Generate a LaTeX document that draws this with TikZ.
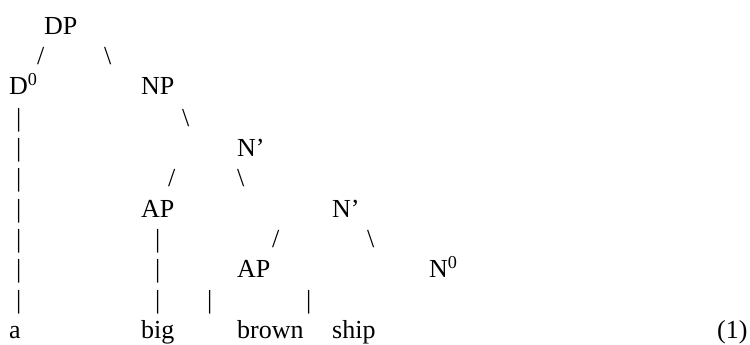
\documentclass[tikz,border=0pt]{standalone}
\usepackage{fontspec}
\setmainfont{Liberation Serif}

\begin{document}
\begin{tikzpicture}[x=1pt, y=1pt,
        word/.style={anchor=base west, inner sep=0pt, font=\fontsize{26}{30}\selectfont}]
        \useasboundingbox (0,0) rectangle (750,-345);

        % Row 1
        \node[word] (dp) at (44,-35) {DP};

        % Row 2
        \node[word] (s1) at (37,-65) {/};
        \node[word] (b1) at (104,-65) {\textbackslash};

        % Row 3
        \node[word] (d0) at (9,-95) {D\textsuperscript{0}};
        \node[word] (np) at (141,-95) {NP};

        % Row 4
        \node[word] (p1) at (16,-126) {|};
        \node[word] (b2) at (182,-126) {\textbackslash};

        % Row 5
        \node[word] (p2) at (16,-156) {|};
        \node[word] (nbar1) at (237,-156) {N’};

        % Row 6
        \node[word] (p3) at (16,-186.5) {|};
        \node[word] (s2) at (168,-186.5) {/};
        \node[word] (b3) at (237,-186.5) {\textbackslash};

        % Row 7
        \node[word] (p4) at (16,-217) {|};
        \node[word] (ap1) at (141,-217) {AP};
        \node[word] (nbar2) at (332,-217) {N’};

        % Row 8
        \node[word] (p5) at (16,-247) {|};
        \node[word] (q1) at (155,-247) {|};
        \node[word] (s3) at (272,-247) {/};
        \node[word] (b4) at (367,-247) {\textbackslash};

        % Row 9
        \node[word] (p6) at (16,-277.5) {|};
        \node[word] (q2) at (155,-277.5) {|};
        \node[word] (ap2) at (237,-277.5) {AP};
        \node[word] (n0) at (429,-277.5) {N\textsuperscript{0}};

        % Row 10
        \node[word] (p7) at (16,-308) {|};
        \node[word] (q3) at (155,-308) {|};
        \node[word] (r1) at (207,-308) {|};
        \node[word] (r2) at (306,-308) {|};

        % Words
        \node[word] (wa) at (9,-338) {a};
        \node[word] (wbig) at (141,-338) {big};
        \node[word] (wbrown) at (237,-338) {brown};
        \node[word] (wship) at (332,-338) {ship};
        \node[word] (num) at (717,-338) {(1)};
    \end{tikzpicture}
\end{document}
